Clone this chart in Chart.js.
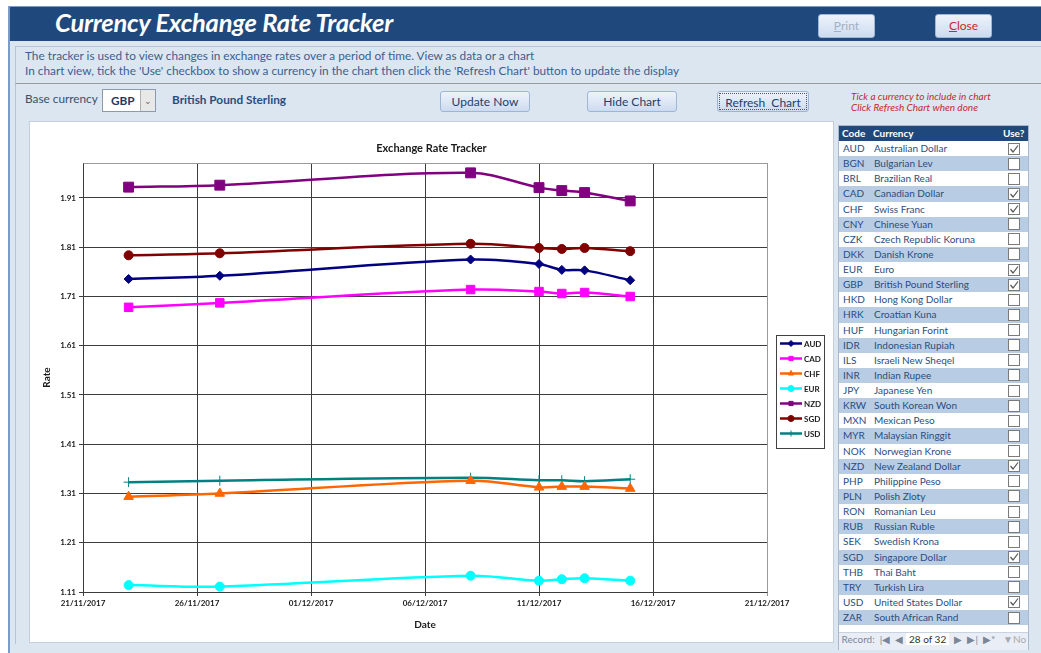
<!DOCTYPE html>
<html><head><meta charset="utf-8">
<script src="https://cdn.jsdelivr.net/npm/chart.js@4.4.1/dist/chart.umd.min.js"></script>
<style>
*{box-sizing:border-box}
body{margin:0;width:1041px;height:653px;overflow:hidden;background:#fff;font-family:Lato,"Open Sans",sans-serif;position:relative}
.abs{position:absolute}
#form{left:8px;top:6px;width:1040px;height:650px;background:#dce6f1;border-left:2px solid #7b9cc9;border-top:1px solid #7b9cc9}
#hdr{left:10px;top:7px;width:1031px;height:34px;background:#1f497d}
#hdr .t{position:absolute;left:45px;top:0px;color:#fff;font-weight:bold;font-style:italic;font-size:25.5px;letter-spacing:-0.2px}
.btn{position:absolute;background:linear-gradient(#eef3fb,#cddbf0);border:1px solid #9fb5d6;border-radius:3px;font-size:12px;color:#24406a;text-align:center}
#info{left:15px;top:46px;width:1026px;height:38px;border-top:1px solid #b8c4d4;border-left:1px solid #b8c4d4;border-bottom:1px solid #9a9a9a}
.info{position:absolute;left:25px;font-size:11.8px;color:#3b5f8f;white-space:nowrap}
#row{left:15px;top:84px;width:1026px;height:560px;border-left:1px solid #b8c4d4}
.red{position:absolute;left:851px;font-size:10px;font-style:italic;color:#c8282e;white-space:nowrap}
#panel{left:29px;top:121px;width:805px;height:522px;background:#fff;border:1px solid #c5cfdc}
#list{left:838px;top:125px;width:191px;height:525px;border:1px solid #a9b8cc;background:#fff}
.lh{position:absolute;left:0;top:0;width:189px;height:15px;background:#1f497d;color:#fff;font-size:10px;font-weight:bold}
.lr{position:absolute;left:0;width:189px;font-size:10px;color:#2a4d7f;white-space:nowrap}
.cb{position:absolute;left:169px;width:12px;height:12px;border:1px solid #7a7a7a;background:#fff}
#rec{left:839px;top:632px;width:189px;height:18px;background:#e9eef6;border-top:1px solid #c8d2e0;font-size:10px;color:#7a8595;white-space:nowrap;overflow:hidden}
</style></head><body>
<div id="form" class="abs"></div>
<div id="hdr" class="abs"><div class="t">Currency Exchange Rate Tracker</div></div>
<div class="btn" style="left:818px;top:14px;width:57px;height:24px;line-height:22px;color:#a3b0c2"><u>P</u>rint</div>
<div class="btn" style="left:935px;top:14px;width:57px;height:24px;line-height:22px;color:#c8282e"><u>C</u>lose</div>
<div id="info" class="abs"></div>
<div class="info" style="top:48px">The tracker is used to view changes in exchange rates over a period of time. View as data or a chart</div>
<div class="info" style="top:63px">In chart view, tick the 'Use' checkbox to show a currency in the chart then click the 'Refresh Chart' button to update the display</div>
<div id="row" class="abs"></div>
<div class="abs" style="left:25px;top:91px;font-size:11.8px;color:#3b4f6b">Base currency</div>
<div class="abs" style="left:102px;top:89px;width:54px;height:23px;background:#fff;border:1px solid #8c9ab0">
  <div class="abs" style="left:8px;top:3px;font-size:11.8px;font-weight:bold;color:#1f3a60">GBP</div>
  <div class="abs" style="left:37px;top:0;width:15px;height:21px;background:#e8e8e8;border-left:1px solid #b0b0b0;font-size:9px;color:#666;text-align:center;line-height:21px">&#8964;</div>
</div>
<div class="abs" style="left:172px;top:92px;font-size:11.8px;font-weight:bold;color:#2a4d7f">British Pound Sterling</div>
<div class="btn" style="left:440px;top:91px;width:90px;height:21px;line-height:19px">Update Now</div>
<div class="btn" style="left:587px;top:91px;width:90px;height:21px;line-height:19px">Hide Chart</div>
<div class="btn" style="left:717px;top:91px;width:92px;height:21px;line-height:17px;padding:1px"><div style="border:1px dotted #555;height:17px">Refresh&nbsp; Chart</div></div>
<div class="red" style="top:90px">Tick a currency to include in chart</div>
<div class="red" style="top:101px">Click Refresh Chart when done</div>
<div id="panel" class="abs"></div>
<canvas id="c" class="abs" width="803" height="520" style="left:30px;top:122px"></canvas>
<div id="list" class="abs"></div>
<div id="rec" class="abs">&nbsp;Record: &nbsp;|&#9664; &nbsp;&#9664; <span style="background:#fff;color:#333;padding:0 3px">28 of 32</span> &nbsp;&#9654; &nbsp;&#9654;| &nbsp;&#9654;* &nbsp; <span style="color:#aaa">&#9660;No F</span></div>
<script>
// ---- data ----
const chartTitle = 'Exchange Rate Tracker';
const dates = ['23/11/2017','27/11/2017','08/12/2017','11/12/2017','12/12/2017','13/12/2017','15/12/2017'];
const seriesNames = ['AUD','CAD','CHF','EUR','NZD','SGD','USD'];
const audValues = [1.7455,1.752,1.785,1.776,1.764,1.763,1.743];
const cadValues = [1.688,1.697,1.724,1.720,1.716,1.718,1.710];
const chfValues = [1.3035,1.310,1.336,1.3225,1.324,1.324,1.320];
const eurValues = [1.124,1.121,1.143,1.133,1.136,1.138,1.133];
const nzdValues = [1.932,1.936,1.961,1.931,1.925,1.921,1.904];
const sgdValues = [1.7936,1.7977,1.817,1.8085,1.8065,1.8085,1.802];
const usdValues = [1.333,1.336,1.342,1.337,1.337,1.335,1.339];
const yTickValues = [1.11,1.21,1.31,1.41,1.51,1.61,1.71,1.81,1.91];
const yAxisMax = 1.981;
const xTickLabels = ['21/11/2017','26/11/2017','01/12/2017','06/12/2017','11/12/2017','16/12/2017','21/12/2017'];
const currencyCodes = ['AUD','BGN','BRL','CAD','CHF','CNY','CZK','DKK','EUR','GBP','HKD','HRK','HUF','IDR','ILS','INR','JPY','KRW','MXN','MYR','NOK','NZD','PHP','PLN','RON','RUB','SEK','SGD','THB','TRY','USD','ZAR'];
const currencyNames = ['Australian Dollar','Bulgarian Lev','Brazilian Real','Canadian Dollar','Swiss Franc','Chinese Yuan','Czech Republic Koruna','Danish Krone','Euro','British Pound Sterling','Hong Kong Dollar','Croatian Kuna','Hungarian Forint','Indonesian Rupiah','Israeli New Sheqel','Indian Rupee','Japanese Yen','South Korean Won','Mexican Peso','Malaysian Ringgit','Norwegian Krone','New Zealand Dollar','Philippine Peso','Polish Zloty','Romanian Leu','Russian Ruble','Swedish Krona','Singapore Dollar','Thai Baht','Turkish Lira','United States Dollar','South African Rand'];
const currencyUsed = ['AUD','CAD','CHF','EUR','GBP','NZD','SGD','USD'];

// ---- list panel ----
(function(){
  const list = document.getElementById('list');
  let h = '<div class="lh"><span style="position:absolute;left:3px;top:1px">Code</span><span style="position:absolute;left:34px;top:1px">Currency</span><span style="position:absolute;left:164px;top:1px">Use?</span></div>';
  const rh = 15.13;
  currencyCodes.forEach((c,i)=>{
    const top = 15 + i*rh;
    const bg = i%2 ? '#b8cce4' : '#fff';
    const chk = currencyUsed.includes(c);
    h += '<div class="lr" style="top:'+top+'px;height:'+rh+'px;background:'+bg+';line-height:'+rh+'px"><span style="position:absolute;left:4px">'+c+'</span><span style="position:absolute;left:35px">'+currencyNames[i]+'</span>'+
      '<div class="cb" style="top:1.5px">'+(chk?'<svg width="10" height="10" style="position:absolute;left:0;top:0"><path d="M1.5 5 L4 8 L9 1.5" fill="none" stroke="#555" stroke-width="1.2"/></svg>':'')+'</div></div>';
  });
  list.innerHTML = h;
})();

// ---- chart ----
const toDay = s => { const [d,m,y] = s.split('/').map(Number); return Date.UTC(y,m-1,d)/86400000; };
const fmtDay = v => { const dt = new Date(v*86400000); const p = n => String(n).padStart(2,'0'); return p(dt.getUTCDate())+'/'+p(dt.getUTCMonth()+1)+'/'+dt.getUTCFullYear(); };
const xs = dates.map(toDay);
const mk = (vals) => vals.map((v,i)=>({x: xs[i], y: v}));

const styles = {
  AUD:{color:'#000080', ps:'rectRot', r:4.5},
  CAD:{color:'#ff00ff', ps:'rect', r:6},
  CHF:{color:'#ff6600', ps:'triangle', r:5.5},
  EUR:{color:'#00ffff', ps:'circle', r:4.5},
  NZD:{color:'#800080', ps:'rect', r:7},
  SGD:{color:'#800000', ps:'circle', r:4.5},
  USD:{color:'#008080', ps:'cross', r:5}
};
const valuesByName = {AUD:audValues, CAD:cadValues, CHF:chfValues, EUR:eurValues, NZD:nzdValues, SGD:sgdValues, USD:usdValues};
const datasets = seriesNames.map(n => ({
  label: n,
  data: mk(valuesByName[n]),
  borderColor: styles[n].color,
  backgroundColor: styles[n].color,
  pointBackgroundColor: styles[n].color,
  pointBorderColor: styles[n].color,
  pointStyle: styles[n].ps,
  pointRadius: styles[n].r,
  pointBorderWidth: 1,
  borderWidth: 2.5,
  tension: 0.35,
  fill: false
}));

const framePlugin = {
  id:'frame',
  beforeDatasetsDraw(chart){
    const {ctx, chartArea:a} = chart;
    ctx.save();
    ctx.strokeStyle = '#9a9a9a'; ctx.lineWidth = 1;
    ctx.beginPath();
    ctx.moveTo(Math.round(a.left)+0.5, Math.round(a.top)+0.5);
    ctx.lineTo(Math.round(a.right)+0.5, Math.round(a.top)+0.5);
    ctx.lineTo(Math.round(a.right)+0.5, Math.round(a.bottom)+0.5);
    ctx.stroke();
    ctx.restore();
  },
  afterDraw(chart){
    const ctx = chart.ctx;
    ctx.save();
    ctx.fillStyle = '#1a1a1a';
    ctx.font = 'bold 11px Lato';
    ctx.textAlign = 'center';
    ctx.textBaseline = 'middle';
    ctx.fillText(chartTitle, chart.width/2, 26);
    ctx.restore();
  }
};
const legendPlugin = {
  id:'boxLegend',
  afterDraw(chart){
    const {ctx, chartArea:a} = chart;
    const x0 = Math.round(a.right) + 9, y0 = Math.round(a.top) + 172, w = 48, h = 113;
    ctx.save();
    ctx.strokeStyle = '#404040'; ctx.lineWidth = 1;
    ctx.strokeRect(x0+0.5, y0+0.5, w, h);
    chart.data.datasets.forEach((ds,i)=>{
      const y = y0 + 8.5 + i*15;
      ctx.strokeStyle = ds.borderColor; ctx.fillStyle = ds.borderColor; ctx.lineWidth = 2.5;
      ctx.beginPath(); ctx.moveTo(x0+4, y); ctx.lineTo(x0+26, y); ctx.stroke();
      ctx.lineWidth = 1;
      if (Chart.helpers && Chart.helpers.drawPoint) {
        Chart.helpers.drawPoint(ctx, {pointStyle: ds.pointStyle, radius: 3, borderWidth: 1, rotation: 0}, x0+15, y);
      }
      ctx.fillStyle = '#1a1a1a';
      ctx.font = 'bold 8px Lato';
      ctx.textBaseline = 'middle';
      ctx.fillText(ds.label, x0+28, y+0.5);
    });
    ctx.restore();
  }
};

new Chart(document.getElementById('c'), {
  type:'line',
  data:{datasets},
  plugins:[framePlugin, legendPlugin],
  options:{
    responsive:false, animation:false,
    layout:{padding:{left:0,right:66,top:41,bottom:0}},
    plugins:{
      legend:{display:false},
      tooltip:{enabled:false},
      title:{display:false}
    },
    scales:{
      x:{
        type:'linear',
        min: toDay(xTickLabels[0]), max: toDay(xTickLabels[xTickLabels.length-1]),
        afterBuildTicks: s => { s.ticks = xTickLabels.map(t=>({value: toDay(t)})); },
        afterFit: s => { s.height = 50; },
        ticks:{ callback: v => fmtDay(v), color:'#1a1a1a', font:{family:'Lato', size:8, weight:'bold'}, padding:3, maxRotation:0, autoSkip:false },
        grid:{ color: c => (c.tick && c.tick.value === toDay(xTickLabels[xTickLabels.length-1])) ? '#9a9a9a' : '#3c3c3c', lineWidth:1, tickLength:4, drawTicks:true },
        border:{color:'#3c3c3c', width:1},
        title:{display:true, text:'Date', color:'#1a1a1a', font:{family:'Lato', size:10, weight:'bold'}, padding:{top:0,bottom:11}}
      },
      y:{
        type:'linear',
        min: yTickValues[0], max: yAxisMax,
        afterBuildTicks: s => { s.ticks = yTickValues.map(v=>({value:v})); },
        afterFit: s => { s.width = 53; },
        ticks:{ callback: v => v.toFixed(2), color:'#1a1a1a', font:{family:'Lato', size:8, weight:'bold'}, padding:3 },
        grid:{ color:'#3c3c3c', lineWidth:1, tickLength:4 },
        border:{color:'#3c3c3c', width:1},
        title:{display:true, text:'Rate', color:'#1a1a1a', font:{family:'Lato', size:10, weight:'bold'}, padding:{top:11,bottom:0}}
      }
    }
  }
});
</script>
</body></html>
